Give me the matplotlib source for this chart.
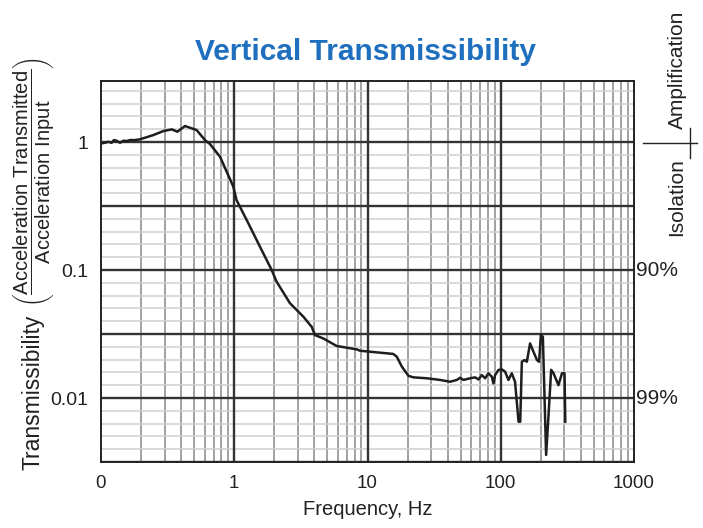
import numpy as np
import matplotlib
matplotlib.use("Agg")
import matplotlib.pyplot as plt
from matplotlib.ticker import FixedLocator, NullFormatter
from matplotlib.lines import Line2D

plt.rcParams['font.family'] = ['Liberation Sans', 'DejaVu Sans']
plt.rcParams['mathtext.fontset'] = 'custom'
plt.rcParams['mathtext.rm'] = 'Liberation Sans'
plt.rcParams['mathtext.sf'] = 'Liberation Sans'

# ---- data ----
freq_hz = [0.101, 0.107, 0.1135, 0.120, 0.125, 0.131, 0.139, 0.147, 0.156, 0.165, 0.18, 0.196,
           0.247, 0.294, 0.34, 0.374, 0.427, 0.522, 0.603, 0.657, 0.782, 0.984, 1.04, 1.24,
           1.56, 1.91, 2.08, 2.62, 3.30, 3.81, 4.04, 4.66, 5.87, 8.3, 8.8, 15.6, 16.6, 18.1,
           20.3, 22.1, 27.9, 35.1, 41.7, 46.8, 49.6, 52.5, 58.9, 64.2, 68.0, 72.1, 76.3, 80.8,
           85.7, 88.1, 90.7, 96.0, 101.8, 107.8, 114.2, 121, 128, 136, 140, 144, 151, 157, 166,
           176, 187, 194, 200, 207, 219, 228, 239, 249, 271, 288, 301, 305]
transmissibility = [0.977, 0.987, 1.005, 0.987, 1.036, 1.024, 0.987, 1.024, 1.018, 1.036, 1.036, 1.05,
                    1.134, 1.219, 1.256, 1.204, 1.334, 1.241, 1.036, 0.965, 0.768, 0.448, 0.352, 0.246,
                    0.152, 0.100, 0.081, 0.055, 0.0432, 0.036, 0.031, 0.0292, 0.0255, 0.024, 0.0234,
                    0.0221, 0.021, 0.0176, 0.0149, 0.0145, 0.01426, 0.01384, 0.0134, 0.01384, 0.0144,
                    0.01384, 0.01426, 0.0145, 0.01396, 0.0151, 0.01426, 0.0156, 0.01467, 0.0130, 0.0151,
                    0.01655, 0.01675, 0.01605, 0.01384, 0.0156, 0.0134, 0.00653, 0.00653, 0.0192, 0.0198,
                    0.0192, 0.0267, 0.023, 0.0198, 0.0192, 0.031, 0.0301, 0.00359, 0.00714, 0.0166,
                    0.0156, 0.0126, 0.0156, 0.0156, 0.00653]

x_tick_values = [0.1, 1, 10, 100, 1000]
x_tick_labels = ["0", "1", "10", "100", "1000"]
y_tick_values = [0.01, 0.1, 1]
y_tick_labels = ["0.01", "0.1", "1"]
right_labels = ["90%", "99%"]
right_label_values = [0.1, 0.01]

W, H = 703, 528
fig = plt.figure(figsize=(W / 100, H / 100), dpi=100)
ax = fig.add_axes([101 / W, 1 - 462 / H, (634 - 101) / W, (462 - 81) / H])
ax.set_xscale('log')
ax.set_yscale('log')
ax.set_xlim(0.1, 1000)
ax.set_ylim(10 ** -2.5, 10 ** 0.477)

# ticks / labels
ax.set_xticks(x_tick_values, x_tick_labels)
ax.set_yticks(y_tick_values, y_tick_labels)
x_minor = [m * 10 ** d for d in range(-1, 3) for m in range(2, 10)]
y_minor = [10 ** (k / 10) for k in range(-25, 5) if k % 5 != 0]
ax.xaxis.set_minor_locator(FixedLocator(x_minor))
ax.yaxis.set_minor_locator(FixedLocator(y_minor))
ax.xaxis.set_minor_formatter(NullFormatter())
ax.yaxis.set_minor_formatter(NullFormatter())
ax.tick_params(which='both', length=0)
ax.tick_params(axis='x', labelsize=13.5, pad=9, colors='#222222')
ax.tick_params(axis='y', labelsize=14, pad=9, colors='#222222')

# graph-paper grid
ax.xaxis.grid(True, which='minor', color='#9a9a9a', linewidth=1.3)
ax.yaxis.grid(True, which='minor', color='#cfcfcf', linewidth=1.1)
ax.set_axisbelow(True)
for v in [1, 10, 100]:
    ax.axvline(v, color='#333333', linewidth=1.7, zorder=1)
for k in range(-5, 1):
    ax.axhline(10 ** (k / 2), color='#333333', linewidth=1.7, zorder=1)
for s in ax.spines.values():
    s.set_color('#222222')
    s.set_linewidth(1.4)

ax.plot(freq_hz, transmissibility, color='#1e1e1e', linewidth=1.8, zorder=5)

ax.set_xlabel("Frequency, Hz", fontsize=14.5, color='#222222', labelpad=6)

# right-side labels
for lab, v in zip(right_labels, right_label_values):
    ax.text(1.004, v, lab, transform=ax.get_yaxis_transform(), ha='left', va='center',
            fontsize=15, color='#222222')

fig.text(677 / W, 1 - 70 / H, "Amplification", rotation=90, ha='center', va='center',
         fontsize=15, color='#222222')
fig.text(677 / W, 1 - 197 / H, "Isolation", rotation=90, ha='center', va='center',
         fontsize=15, color='#222222')
fig.add_artist(Line2D([643 / W, 697 / W], [1 - 143 / H, 1 - 143 / H], color='#222222', linewidth=1.0))
fig.add_artist(Line2D([690 / W, 690 / W], [1 - 128 / H, 1 - 158 / H], color='#222222', linewidth=1.0))

# title
fig.text(366 / W, 1 - 52 / H, "Vertical Transmissibility", ha='center', va='center',
         fontsize=21.5, fontweight='bold', color='#1f6fbf')

# y label, in two pieces
fig.text(33 / W, 1 - 392 / H, "Transmissibility", rotation=90, ha='center', va='center',
         fontsize=16.5, color='#222222')
frac = (r"$\left(\dfrac{\mathsf{Acceleration\ Transmitted}}"
        r"{\mathsf{Acceleration\ Input}}\right)$")
fig.text(33 / W, 1 - 182 / H, frac, rotation=90, ha='center', va='center',
         fontsize=14.5, color='#222222')

fig.savefig("out.png", dpi=100)
